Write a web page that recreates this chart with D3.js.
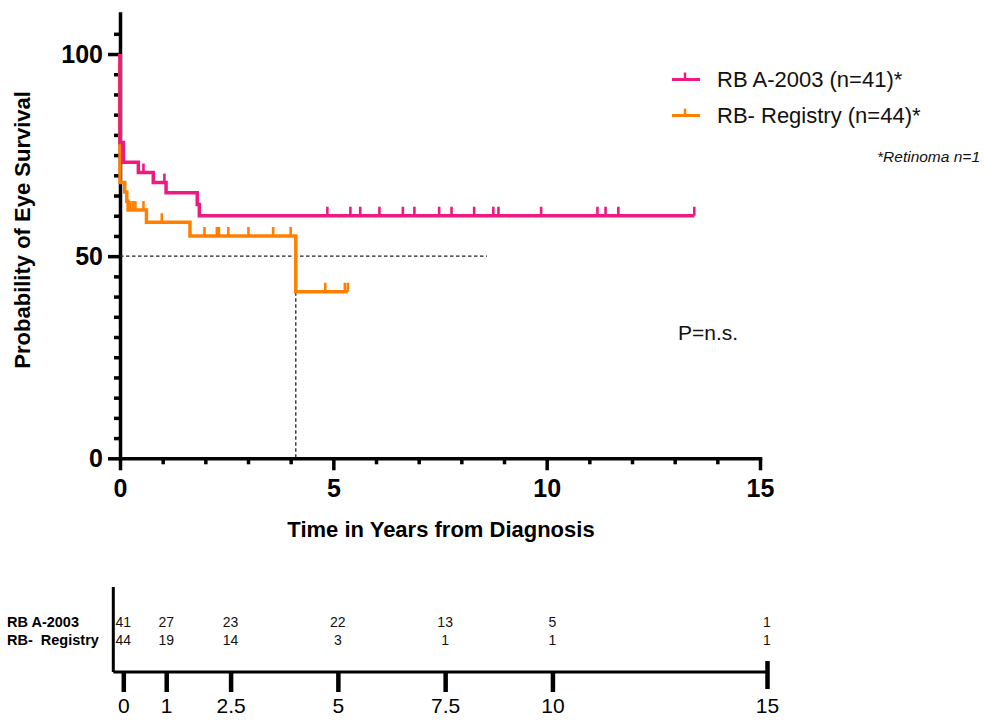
<!DOCTYPE html>
<html>
<head>
<meta charset="utf-8">
<script src="https://cdn.jsdelivr.net/npm/d3@7/dist/d3.min.js"></script>
<style>
  body { margin: 0; background: #fff; }
  svg { display: block; font-family: "Liberation Sans", Arial, Helvetica, sans-serif; }
</style>
</head>
<body>
<script>
// ---- Kaplan-Meier data (time in years, survival in %) ----
const seriesNames = ["RB A-2003 (n=41)*", "RB- Registry (n=44)*"];
const riskRowNames = ["RB A-2003", "RB-  Registry"];

// RB A-2003: step changes (time, survival after the step)
const a2003Times    = [0, 0, 0.08, 0.43, 0.78, 1.08, 1.81, 1.86];
const a2003Survival = [100, 78.1, 73.2, 70.7, 68.2, 65.7, 62.8, 60.0];
const a2003End = 13.46;
const a2003Censored = [0.55, 1.04, 4.86, 5.40, 5.63, 6.08, 6.63, 6.90, 7.48, 7.77,
                       8.30, 8.75, 8.87, 9.87, 11.19, 11.38, 11.68, 13.46];

// RB- Registry
const registryTimes    = [0, 0, 0.11, 0.16, 0.19, 0.62, 1.64, 4.12];
const registrySurvival = [100, 68.2, 65.9, 63.6, 61.4, 58.4, 55.0, 41.2];
const registryEnd = 5.34;
const registryCensored = [0.24, 0.30, 0.36, 0.55, 0.98, 1.98, 2.27, 2.32, 2.54,
                          3.01, 3.59, 4.00, 4.81, 5.27, 5.34];

// median survival guide
const medianLevel = 50;
const registryMedian = 4.12;
const medianGuideEnd = 8.6;

// axis ticks
const xMajorTicks = [0, 5, 10, 15];
const yMajorTicks = [0, 50, 100];

// number at risk table
const riskTimes = [0, 1, 2.5, 5, 7.5, 10, 15];
const riskTickLabels = ["0", "1", "2.5", "5", "7.5", "10", "15"];
const riskA2003 = [41, 27, 23, 22, 13, 5, 1];
const riskRegistry = [44, 19, 14, 3, 1, 1, 1];

const colors = ["#EE1A80", "#FF8000"];

// ---- drawing ----
const svg = d3.select("body").append("svg")
  .attr("width", 985).attr("height", 720);

const x = d3.scaleLinear().domain([0, 15]).range([120, 760]);
const y = d3.scaleLinear().domain([0, 110]).range([458.3, 13.6]);

function styleAxis(g, width) {
  g.selectAll(".domain").attr("stroke", "#000").attr("stroke-width", width).attr("stroke-linecap", "square");
  g.selectAll(".tick line").attr("stroke", "#000").attr("stroke-width", width);
}

// minor ticks
const yMinor = d3.range(5, 110, 5).filter(v => !yMajorTicks.includes(v));
svg.append("g").attr("transform", "translate(120,0)")
  .call(d3.axisLeft(y).tickValues(yMinor).tickSize(6).tickFormat(""))
  .call(g => { g.select(".domain").remove(); styleAxis(g, 3.5); });
const xMinor = d3.range(1, 15, 1).filter(v => !xMajorTicks.includes(v));
svg.append("g").attr("transform", "translate(0,458.3)")
  .call(d3.axisBottom(x).tickValues(xMinor).tickSize(6).tickFormat(""))
  .call(g => { g.select(".domain").remove(); styleAxis(g, 3.5); });

// major axes
svg.append("g").attr("transform", "translate(120,0)")
  .call(d3.axisLeft(y).tickValues(yMajorTicks).tickSize(12).tickSizeOuter(0).tickPadding(5).tickFormat(d3.format("d")))
  .call(g => {
    styleAxis(g, 3.5);
    g.selectAll("text").attr("font-size", 25).attr("font-weight", "bold")
      .attr("font-family", "Liberation Sans, Arial, sans-serif").attr("fill", "#000");
  });
svg.append("g").attr("transform", "translate(0,458.3)")
  .call(d3.axisBottom(x).tickValues(xMajorTicks).tickSize(12).tickSizeOuter(0).tickPadding(9).tickFormat(d3.format("d")))
  .call(g => {
    styleAxis(g, 3.5);
    g.selectAll("text").attr("font-size", 25).attr("font-weight", "bold")
      .attr("font-family", "Liberation Sans, Arial, sans-serif").attr("fill", "#000");
  });

// axis titles
svg.append("text")
  .attr("transform", `translate(30,${y(56.5)}) rotate(-90)`)
  .attr("text-anchor", "middle")
  .attr("font-size", 22).attr("font-weight", "bold")
  .text("Probability of Eye Survival");
svg.append("text")
  .attr("x", 441).attr("y", 537)
  .attr("text-anchor", "middle")
  .attr("font-size", 22).attr("font-weight", "bold")
  .text("Time in Years from Diagnosis");

// median guide lines
svg.append("line")
  .attr("x1", x(0)).attr("x2", x(medianGuideEnd))
  .attr("y1", y(medianLevel)).attr("y2", y(medianLevel))
  .attr("stroke", "#222").attr("stroke-width", 1.3).attr("stroke-dasharray", "3.5,2.5");
svg.append("line")
  .attr("x1", x(registryMedian)).attr("x2", x(registryMedian))
  .attr("y1", y(medianLevel)).attr("y2", y(0))
  .attr("stroke", "#222").attr("stroke-width", 1.3).attr("stroke-dasharray", "3.5,2.5");

// survival curves
const series = [
  { times: registryTimes, surv: registrySurvival, end: registryEnd, censored: registryCensored, color: colors[1] },
  { times: a2003Times, surv: a2003Survival, end: a2003End, censored: a2003Censored, color: colors[0] }
];

const stepLine = d3.line().x(d => x(d[0])).y(d => y(d[1])).curve(d3.curveStepAfter);

function survivalAt(s, t) {
  let v = s.surv[0];
  for (let i = 0; i < s.times.length; i++) if (s.times[i] <= t) v = s.surv[i];
  return v;
}

series.forEach(s => {
  const pts = s.times.map((t, i) => [t, s.surv[i]]);
  pts.push([s.end, s.surv[s.surv.length - 1]]);
  svg.append("path")
    .attr("d", stepLine(pts))
    .attr("fill", "none")
    .attr("stroke", s.color)
    .attr("stroke-width", 3.5)
    .attr("stroke-linejoin", "miter");
  svg.append("g").selectAll("line").data(s.censored).join("line")
    .attr("x1", d => x(d)).attr("x2", d => x(d))
    .attr("y1", d => y(survivalAt(s, d)))
    .attr("y2", d => y(survivalAt(s, d)) - 9)
    .attr("stroke", s.color).attr("stroke-width", 2.6);
});

// legend
const legend = svg.append("g");
seriesNames.forEach((name, i) => {
  const ly = 79.5 + i * 36;
  legend.append("line").attr("x1", 672).attr("x2", 700).attr("y1", ly).attr("y2", ly)
    .attr("stroke", colors[i]).attr("stroke-width", 3);
  legend.append("line").attr("x1", 685).attr("x2", 685).attr("y1", ly).attr("y2", ly - 7)
    .attr("stroke", colors[i]).attr("stroke-width", 2.5);
  legend.append("text").attr("x", 717).attr("y", ly + 7.5)
    .attr("font-size", 22).attr("fill", "#111").text(name);
});
svg.append("text").attr("x", 980).attr("y", 162).attr("text-anchor", "end")
  .attr("font-size", 15.5).attr("font-style", "italic").attr("fill", "#111")
  .text("*Retinoma n=1");

svg.append("text").attr("x", 678).attr("y", 340)
  .attr("font-size", 21).attr("fill", "#111").text("P=n.s.");

// ---- number at risk table ----
const rx = d3.scaleLinear().domain([0, 15]).range([123.3, 767]);
const riskAxisY = 672;

svg.append("line").attr("x1", rx(0) - 10).attr("x2", rx(0) - 10)
  .attr("y1", 587).attr("y2", riskAxisY)
  .attr("stroke", "#000").attr("stroke-width", 3);

const riskAxis = svg.append("g").attr("transform", `translate(0,${riskAxisY})`)
  .call(d3.axisBottom(rx).tickValues(riskTimes).tickSize(20).tickSizeOuter(0).tickPadding(6)
    .tickFormat((d, i) => riskTickLabels[i]));
riskAxis.select(".domain").attr("d", `M${rx(0) - 10},0H${rx(15)}`)
  .attr("stroke", "#000").attr("stroke-width", 3);
riskAxis.selectAll(".tick line").attr("stroke", "#000").attr("stroke-width", 4.5);
riskAxis.selectAll(".tick").filter(d => d === 15).select("line").attr("y1", -11).attr("y2", 17);
riskAxis.selectAll("text").attr("font-size", 21).attr("fill", "#000")
  .attr("font-family", "Liberation Sans, Arial, sans-serif");

const riskRows = [riskA2003, riskRegistry];
riskRows.forEach((row, i) => {
  const by = 626.7 + i * 18.3;
  svg.append("text").attr("x", 7).attr("y", by)
    .attr("font-size", 14.5).attr("font-weight", "bold").attr("fill", "#000")
    .style("white-space", "pre")
    .text(riskRowNames[i]);
  svg.append("g").selectAll("text").data(row).join("text")
    .attr("x", (d, j) => rx(riskTimes[j]))
    .attr("y", by)
    .attr("text-anchor", "middle")
    .attr("font-size", 14).attr("fill", "#111")
    .text(d => d);
});
</script>
</body>
</html>
